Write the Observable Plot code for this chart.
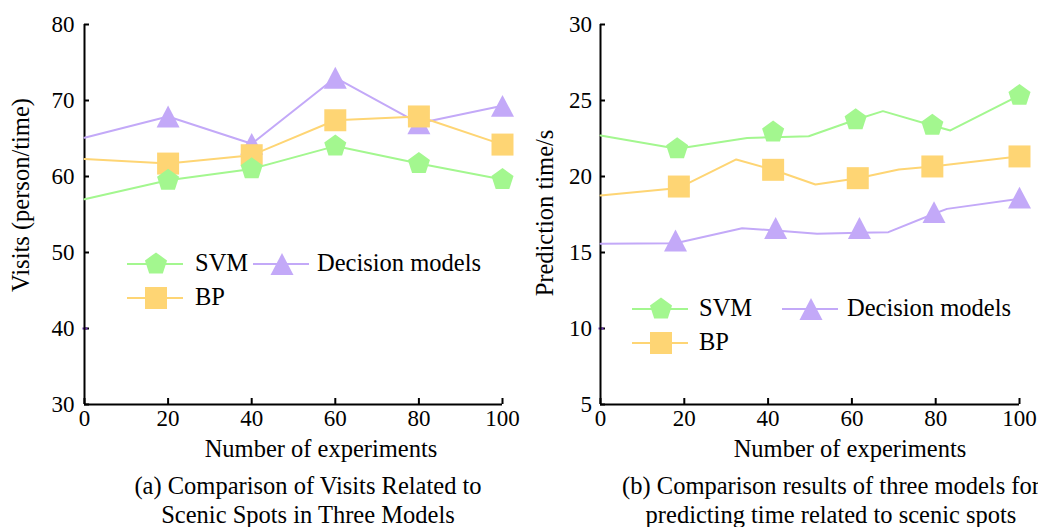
<!DOCTYPE html>
<html>
<head>
<meta charset="utf-8">
<script src="https://cdn.jsdelivr.net/npm/d3@7"></script>
<script src="https://cdn.jsdelivr.net/npm/@observablehq/plot@0.6"></script>
<style>
  html, body { margin: 0; padding: 0; background: #fff; }
  #wrap { position: relative; width: 1038px; height: 527px; overflow: hidden; background: #fff; }
  #wrap > svg, #wrap > figure { position: absolute; margin: 0; }
  #wrap svg, #wrap svg text { font-family: 'Liberation Serif', 'Times New Roman', serif !important; }
</style>
</head>
<body>
<div id="wrap"></div>
<script>
// ---------- data ----------
const seriesNames = ["SVM", "BP", "Decision models"];
const seriesColors = ["#a3f78f", "#fed574", "#c3a9f8"];

// (a) visits
const expX = [0, 20, 40, 60, 80, 100];
const visitsSVM = [57.0, 59.5, 61.0, 64.0, 61.7, 59.6];
const visitsBP = [62.3, 61.7, 62.8, 67.4, 67.9, 64.2];
const visitsDecision = [65.1, 67.9, 64.3, 73.0, 67.0, 69.3];
const visitsTicks = [30, 40, 50, 60, 70, 80];
const visitsOddTick = [40];

// (b) prediction time: polyline vertices and marker positions
const timeSVMLineX = [0, 18.3, 35.0, 41.2, 49.7, 60.9, 67.4, 79.2, 83.5, 100];
const timeSVMLineY = [22.70, 21.82, 22.54, 22.59, 22.65, 23.73, 24.30, 23.36, 23.03, 25.33];
const timeSVMMarkX = [18.3, 41.2, 60.9, 79.2, 100];
const timeSVMMarkY = [21.82, 22.92, 23.73, 23.36, 25.33];

const timeBPLineX = [0, 18.7, 32.4, 41.2, 51.3, 61.4, 71.2, 79.2, 100];
const timeBPLineY = [18.75, 19.25, 21.12, 20.44, 19.47, 19.89, 20.46, 20.66, 21.32];
const timeBPMarkX = [18.7, 41.2, 61.4, 79.2, 100];
const timeBPMarkY = [19.34, 20.44, 19.89, 20.66, 21.32];

const timeDecLineX = [0, 17.9, 33.8, 41.8, 51.7, 61.8, 68.7, 79.6, 82.7, 100];
const timeDecLineY = [15.57, 15.61, 16.60, 16.45, 16.23, 16.30, 16.34, 17.55, 17.87, 18.53];
const timeDecMarkX = [17.9, 41.8, 61.8, 79.6, 100];
const timeDecMarkY = [15.79, 16.61, 16.61, 17.66, 18.61];

const timeTicks = [5, 10, 15, 20, 25, 30];
const timeOddTick = [10];
const xTicks = [0, 20, 40, 60, 80, 100];

const xTitle = "Number of experiments";
const yTitleA = "Visits (person/time)";
const yTitleB = "Prediction time/s";
const captionA = ["(a) Comparison of Visits Related to", "Scenic Spots in Three Models"];
const captionB = ["(b) Comparison results of three models for", "predicting time related to scenic spots"];

// ---------- symbols ----------
const pentagon = { draw(ctx, size) {
  const r = Math.sqrt(size / Math.PI);
  for (let i = 0; i < 5; i++) {
    const a = -Math.PI / 2 + i * 2 * Math.PI / 5;
    const x = r * Math.cos(a), y = r * Math.sin(a);
    if (i === 0) ctx.moveTo(x, y); else ctx.lineTo(x, y);
  }
  ctx.closePath();
}};
const squareSym = { draw(ctx, size) {
  const r = Math.sqrt(size / Math.PI);
  ctx.moveTo(-r, -r); ctx.lineTo(r, -r); ctx.lineTo(r, r); ctx.lineTo(-r, r); ctx.closePath();
}};
const triangleSym = { draw(ctx, size) {
  const r = Math.sqrt(size / Math.PI);
  const h = r * 0.95;
  ctx.moveTo(0, -h); ctx.lineTo(r, h); ctx.lineTo(-r, h); ctx.closePath();
}};
const symbols = [pentagon, squareSym, triangleSym];
const symR = [11.6, 11, 11.5];

const fontFamily = "'Liberation Serif', 'Times New Roman', serif";

function rows(xs, ys) { return xs.map((x, i) => ({x, y: ys[i]})); }

function makeChart(opts) {
  const {yDomain, yTicks, oddTick, lines, marks, marginLeft, marginRight, tickPad} = opts;
  const order = [2, 1, 0]; // Decision, BP, SVM (SVM on top)
  const layers = [];
  for (const k of order) {
    layers.push(Plot.line(lines[k], {x: "x", y: "y", stroke: seriesColors[k], strokeWidth: 2}));
    layers.push(Plot.dot(marks[k], {x: "x", y: "y", symbol: symbols[k], r: symR[k], fill: seriesColors[k], stroke: "none"}));
  }
  return Plot.plot({
    width: 519, height: 430,
    marginLeft, marginRight, marginTop: 24, marginBottom: 26,
    style: {fontFamily, fontSize: "23px", background: "transparent", color: "#000", overflow: "visible"},
    x: {domain: [0, 100]},
    y: {domain: yDomain},
    marks: [
      Plot.axisX({ticks: xTicks, tickSize: -6, tickPadding: 11.5, strokeWidth: 2, label: null}),
      Plot.axisY({ticks: yTicks, tickSize: -5, tickPadding: tickPad, strokeWidth: 2, label: null}),
      Plot.axisY({ticks: oddTick, tickSize: -5, tickFormat: () => "", stroke: "#6b2fb3", strokeWidth: 2, label: null, dx: -1.5}),
      Plot.ruleX([0], {strokeWidth: 2}),
      Plot.ruleY([yDomain[0]], {strokeWidth: 2}),
      ...layers
    ]
  });
}

const markXA = expX.slice(1);
const chartA = makeChart({
  yDomain: [30, 80], yTicks: visitsTicks, oddTick: visitsOddTick, marginLeft: 84, marginRight: 17, tickPad: 15,
  lines: [rows(expX, visitsSVM), rows(expX, visitsBP), rows(expX, visitsDecision)],
  marks: [rows(markXA, visitsSVM.slice(1)), rows(markXA, visitsBP.slice(1)), rows(markXA, visitsDecision.slice(1))]
});
const chartB = makeChart({
  yDomain: [5, 30], yTicks: timeTicks, oddTick: timeOddTick, marginLeft: 81, marginRight: 19, tickPad: 13.5,
  lines: [rows(timeSVMLineX, timeSVMLineY), rows(timeBPLineX, timeBPLineY), rows(timeDecLineX, timeDecLineY)],
  marks: [rows(timeSVMMarkX, timeSVMMarkY), rows(timeBPMarkX, timeBPMarkY), rows(timeDecMarkX, timeDecMarkY)]
});

const wrap = document.getElementById("wrap");
for (const [c, left] of [[chartA, 0], [chartB, 519]]) {
  c.style.left = left + "px"; c.style.top = "0px";
  c.style.fontFamily = fontFamily;
  c.querySelectorAll("text").forEach(t => t.setAttribute("font-family", fontFamily));
  wrap.appendChild(c);
}

// ---------- overlay: titles, captions, legends ----------
const svg = d3.select(wrap).append("svg")
  .attr("width", 1038).attr("height", 527)
  .style("left", "0px").style("top", "0px")
  .style("font-family", fontFamily).style("font-size", "24.5px")
  .style("pointer-events", "none");

svg.append("text").attr("transform", "translate(29,195) rotate(-90)")
  .attr("text-anchor", "middle").text(yTitleA);
svg.append("text").attr("transform", "translate(553,213) rotate(-90)")
  .attr("text-anchor", "middle").text(yTitleB);

svg.append("text").attr("x", 321).attr("y", 457).attr("text-anchor", "middle").text(xTitle);
svg.append("text").attr("x", 850).attr("y", 457).attr("text-anchor", "middle").text(xTitle);

captionA.forEach((t, i) => svg.append("text").attr("x", 308).attr("y", 494 + i * 28.5).attr("text-anchor", "middle").text(t));
captionB.forEach((t, i) => svg.append("text").attr("x", 831).attr("y", 494 + i * 28.5).attr("text-anchor", "middle").text(t));

function symbolPath(k) {
  const p = d3.path();
  symbols[k].draw(p, Math.PI * symR[k] * symR[k]);
  return p.toString();
}
function legendItem(k, x0, y, textX) {
  const g = svg.append("g");
  g.append("line").attr("x1", x0).attr("x2", x0 + 56).attr("y1", y).attr("y2", y)
    .attr("stroke", seriesColors[k]).attr("stroke-width", 2);
  g.append("path").attr("d", symbolPath(k)).attr("transform", `translate(${x0 + 29},${y})`)
    .attr("fill", seriesColors[k]);
  g.append("text").attr("x", textX).attr("y", y + 7).text(seriesNames[k]);
}
// legend (a)
legendItem(0, 127, 264, 195);
legendItem(2, 253, 264, 317);
legendItem(1, 127, 298, 195);
// legend (b)
legendItem(0, 632, 309, 699);
legendItem(2, 782, 309, 847);
legendItem(1, 632, 343, 699);
</script>
</body>
</html>
